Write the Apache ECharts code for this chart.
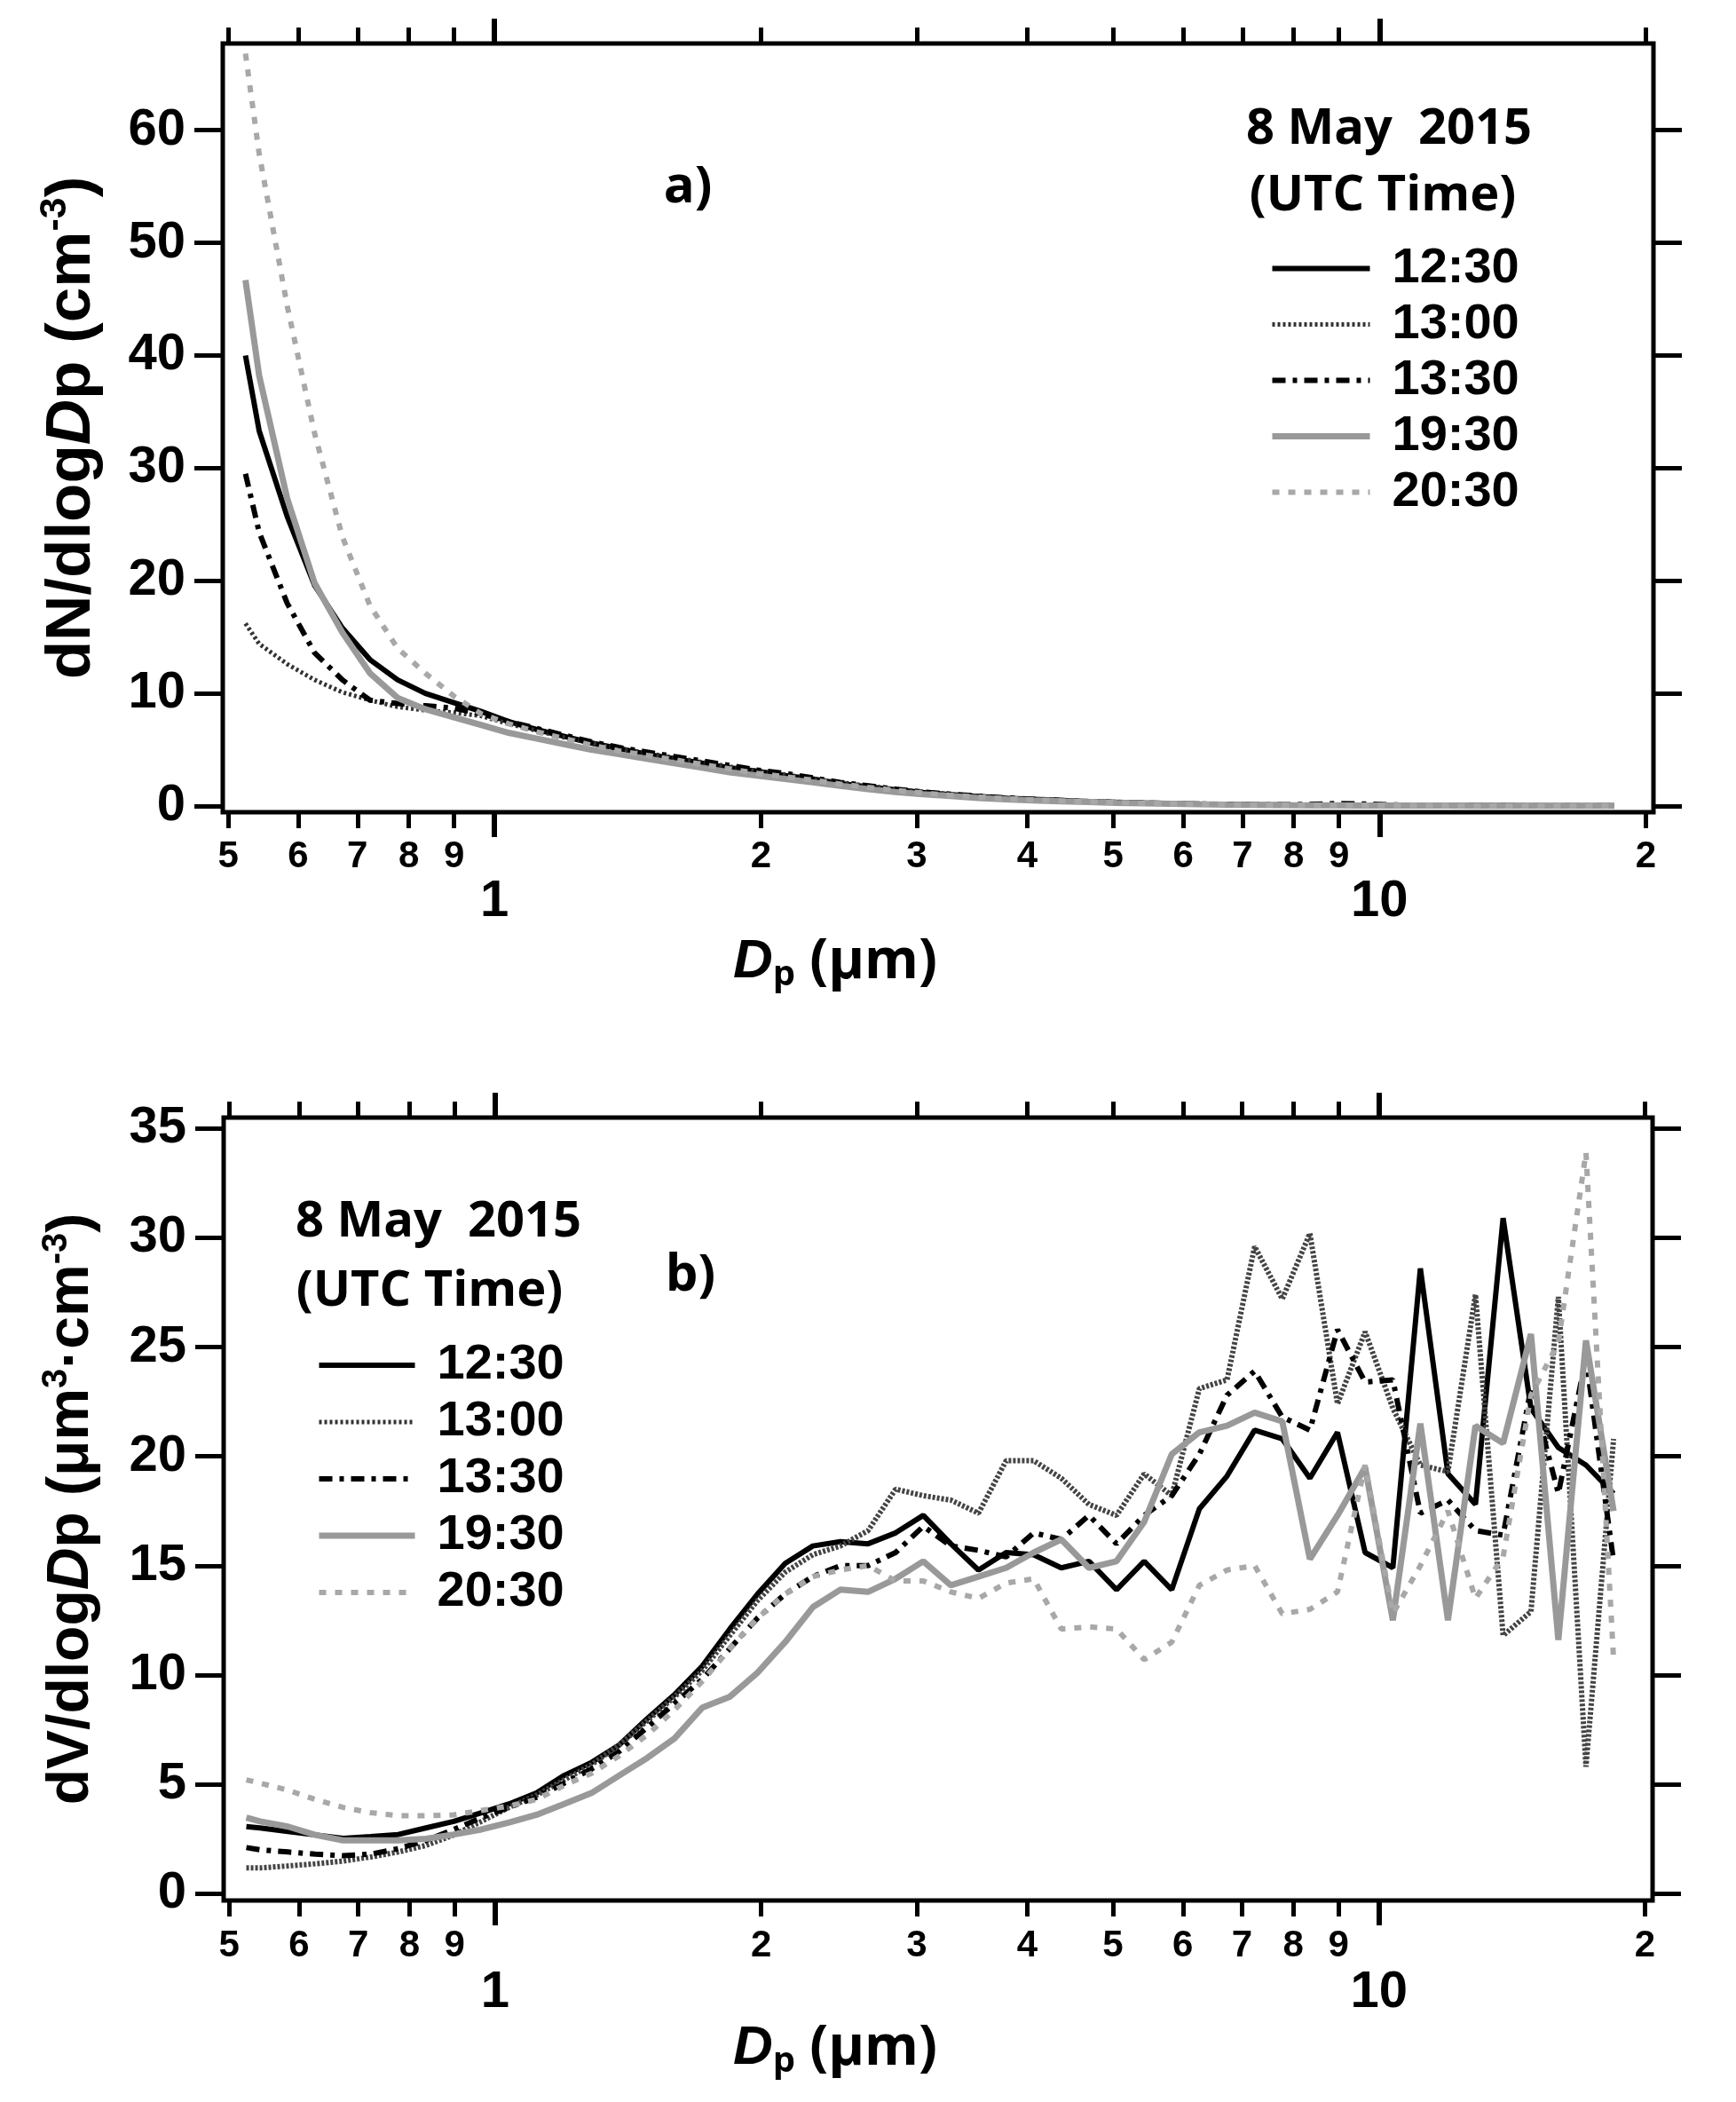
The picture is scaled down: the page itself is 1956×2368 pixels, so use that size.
<!DOCTYPE html>
<html><head><meta charset="utf-8">
<script src="https://cdn.jsdelivr.net/npm/echarts@6/dist/echarts.min.js"></script>
<style>html,body{margin:0;padding:0;background:#fff}#c{width:1956px;height:2368px}</style>
</head><body><div id="c"></div>
<script>
// ---------- data ----------
const diameters = [0.523, 0.542, 0.583, 0.626, 0.673, 0.723, 0.777, 0.835, 0.898, 0.965, 1.037, 1.114, 1.197, 1.286, 1.382, 1.486, 1.596, 1.715, 1.843, 1.981, 2.129, 2.288, 2.458, 2.642, 2.839, 3.051, 3.278, 3.523, 3.786, 4.068, 4.371, 4.698, 5.048, 5.425, 5.829, 6.264, 6.732, 7.234, 7.774, 8.354, 8.977, 9.647, 10.37, 11.14, 11.97, 12.86, 13.82, 14.86, 15.96, 17.15, 18.43];
const seriesNames = ['12:30', '13:00', '13:30', '19:30', '20:30'];

// panel a: dN/dlogDp
const n1230 = [40.0, 33.3, 25.7, 19.6, 15.8, 13.0, 11.2, 10.0, 9.2, 8.4, 7.5, 6.8, 6.2, 5.6, 5.1, 4.6, 4.2, 3.8, 3.4, 3.1, 2.7, 2.4, 2.0, 1.7, 1.45, 1.2, 1.0, 0.85, 0.7, 0.6, 0.5, 0.4, 0.33, 0.27, 0.22, 0.18, 0.15, 0.12, 0.1, 0.09, 0.08, 0.07, 0.06, 0.05, 0.045, 0.04, 0.035, 0.03, 0.025, 0.02, 0.02];
const n1300 = [16.2, 14.4, 12.6, 11.2, 10.1, 9.4, 8.8, 8.5, 8.3, 8.0, 7.3, 6.7, 6.1, 5.6, 5.1, 4.7, 4.3, 3.9, 3.5, 3.1, 2.8, 2.4, 2.1, 1.8, 1.5, 1.25, 1.05, 0.88, 0.72, 0.6, 0.5, 0.4, 0.33, 0.27, 0.22, 0.18, 0.15, 0.13, 0.11, 0.1, 0.12, 0.1, 0.08, 0.06, 0.05, 0.04, 0.035, 0.03, 0.025, 0.02, 0.02];
const n1330 = [29.5, 24.3, 18.0, 13.6, 11.2, 9.4, 9.1, 8.9, 8.7, 8.2, 7.5, 6.9, 6.3, 5.7, 5.2, 4.8, 4.4, 4.0, 3.6, 3.2, 2.9, 2.5, 2.1, 1.8, 1.5, 1.25, 1.05, 0.88, 0.72, 0.6, 0.5, 0.4, 0.33, 0.27, 0.22, 0.18, 0.15, 0.13, 0.12, 0.15, 0.22, 0.18, 0.1, 0.07, 0.05, 0.04, 0.035, 0.03, 0.025, 0.02, 0.02];
const n1930 = [46.7, 38.2, 27.3, 19.8, 15.4, 11.8, 9.6, 8.6, 7.9, 7.2, 6.5, 6.0, 5.5, 5.0, 4.6, 4.2, 3.8, 3.4, 3.0, 2.7, 2.4, 2.1, 1.8, 1.5, 1.25, 1.05, 0.88, 0.72, 0.6, 0.5, 0.42, 0.35, 0.28, 0.23, 0.19, 0.15, 0.12, 0.1, 0.08, 0.07, 0.06, 0.05, 0.045, 0.04, 0.035, 0.03, 0.025, 0.02, 0.02, 0.015, 0.015];
const n2030 = [66.8, 57.9, 44.4, 33.1, 23.9, 17.8, 14.0, 11.8, 9.8, 8.2, 7.3, 6.6, 6.0, 5.4, 4.9, 4.5, 4.1, 3.7, 3.3, 2.9, 2.6, 2.3, 1.95, 1.65, 1.4, 1.15, 0.95, 0.8, 0.65, 0.55, 0.45, 0.37, 0.3, 0.24, 0.2, 0.16, 0.13, 0.1, 0.08, 0.07, 0.06, 0.05, 0.04, 0.035, 0.03, 0.025, 0.02, 0.02, 0.015, 0.015, 0.01];

// panel b: dV/dlogDp
const v1230 = [3.06, 3.0, 2.84, 2.68, 2.52, 2.6, 2.7, 3.0, 3.3, 3.7, 4.1, 4.6, 5.4, 6.0, 6.8, 8.0, 9.1, 10.4, 12.1, 13.7, 15.1, 15.9, 16.1, 16.0, 16.5, 17.3, 16.0, 14.8, 15.6, 15.5, 14.9, 15.2, 13.9, 15.2, 13.9, 17.6, 19.1, 21.2, 20.8, 19.0, 21.1, 15.6, 14.9, 28.6, 19.2, 17.8, 30.9, 22.2, 20.4, 19.6, 18.3];
const v1300 = [1.17, 1.17, 1.26, 1.36, 1.48, 1.67, 1.9, 2.2, 2.68, 3.3, 3.94, 4.5, 5.2, 5.9, 6.8, 7.9, 9.0, 10.2, 11.8, 13.4, 14.7, 15.5, 15.9, 16.6, 18.5, 18.2, 18.0, 17.4, 19.8, 19.8, 19.0, 17.8, 17.3, 19.2, 18.2, 23.1, 23.5, 29.6, 27.2, 30.2, 22.4, 25.7, 22.2, 19.6, 19.3, 27.4, 11.8, 12.9, 27.3, 5.8, 20.8];
const v1330 = [2.1, 2.0, 1.9, 1.8, 1.73, 1.8, 2.05, 2.43, 2.93, 3.47, 3.94, 4.4, 5.05, 5.7, 6.5, 7.6, 8.7, 9.8, 11.2, 12.6, 13.7, 14.5, 15.0, 15.0, 15.6, 16.8, 15.9, 15.7, 15.4, 16.5, 16.2, 17.3, 16.0, 17.3, 18.2, 20.1, 22.8, 23.9, 21.8, 21.2, 25.8, 23.4, 23.5, 17.4, 18.0, 16.6, 16.4, 23.1, 18.3, 24.5, 15.2];
const v1930 = [3.47, 3.3, 3.06, 2.68, 2.43, 2.43, 2.43, 2.5, 2.7, 2.93, 3.25, 3.6, 4.1, 4.6, 5.4, 6.2, 7.1, 8.5, 9.0, 10.1, 11.5, 13.1, 13.9, 13.8, 14.4, 15.2, 14.1, 14.5, 14.9, 15.6, 16.2, 14.9, 15.2, 17.0, 20.1, 21.1, 21.4, 22.0, 21.6, 15.3, 17.3, 19.5, 12.5, 21.5, 12.5, 21.4, 20.6, 25.6, 11.6, 25.3, 17.5];
const v2030 = [5.2, 5.05, 4.73, 4.3, 3.94, 3.7, 3.56, 3.56, 3.6, 3.8, 4.0, 4.3, 4.95, 5.5, 6.3, 7.25, 8.4, 9.7, 11.2, 12.6, 13.7, 14.5, 14.8, 15.0, 14.3, 14.3, 13.8, 13.5, 14.2, 14.4, 12.1, 12.2, 12.1, 10.7, 11.5, 14.1, 14.8, 15.0, 12.8, 13.0, 13.8, 19.6, 12.8, 15.0, 17.5, 13.5, 15.4, 22.8, 25.2, 33.9, 10.7];

// ticks
const xMinorTicks = [0.5, 0.6, 0.7, 0.8, 0.9, 2, 3, 4, 5, 6, 7, 8, 9, 20];
const xMinorLabels = ['5', '6', '7', '8', '9', '2', '3', '4', '5', '6', '7', '8', '9', '2'];
const xMajorTicks = [1, 10];
const xMajorLabels = ['1', '10'];
const yTicksA = [0, 10, 20, 30, 40, 50, 60];
const yTicksB = [0, 5, 10, 15, 20, 25, 30, 35];
const xRange = [0.493, 20.4];
const yRangeA = [-0.55, 67.7];
const yRangeB = [-0.32, 35.5];

// ---------- styles ----------
const FONT = "'Liberation Sans', Arial, sans-serif";
const TFONT = "'Open Sans', sans-serif";
const lineStyles = [
  {color: '#000', width: 6, type: 'solid'},
  {color: '#333', width: 5, type: [3, 3]},
  {color: '#000', width: 6, type: [15, 8, 5, 8]},
  {color: '#999', width: 7, type: 'solid'},
  {color: '#a8a8a8', width: 6, type: [8, 10]}
];
const lineStylesB = lineStyles.slice();
lineStylesB[1] = {color: '#444', width: 6, type: [3, 2]};

const LX0 = Math.log10(xRange[0]), LX1 = Math.log10(xRange[1]);
const minorLog = xMinorTicks.map(Math.log10);
const majorLog = xMajorTicks.map(Math.log10);
function pick(vals, labels) {
  return function (v) {
    for (let i = 0; i < vals.length; i++) if (Math.abs(vals[i] - v) < 1e-6) return labels[i];
    return '';
  };
}
const boldText = {fontFamily: FONT, fontWeight: 'bold', color: '#000'};

function richSet(size) {
  return {
    b: {fontFamily: FONT, fontWeight: 'bold', fontSize: size, lineHeight: Math.round(size * 1.12), color: '#000'},
    i: {fontFamily: FONT, fontWeight: 'bold', fontStyle: 'italic', fontSize: size, lineHeight: Math.round(size * 1.12), color: '#000'},
    s: {fontFamily: FONT, fontWeight: 'bold', fontSize: Math.round(size * 0.6), lineHeight: Math.round(size * 0.6), verticalAlign: 'top', color: '#000'}
  };
}
const xNameRich = {
  i: {fontFamily: FONT, fontWeight: 'bold', fontStyle: 'italic', fontSize: 62, lineHeight: 70, color: '#000'},
  sub: {fontFamily: TFONT, fontWeight: 'bold', fontSize: 40, lineHeight: 40, verticalAlign: 'bottom', color: '#000'},
  b: {fontFamily: TFONT, fontWeight: 'bold', fontSize: 62, lineHeight: 70, color: '#000'}
};

function xAxesFor(gi, c) {
  const base = {type: 'value', gridIndex: gi, min: LX0, max: LX1,
    axisLine: {show: false, onZero: false}, splitLine: {show: false}};
  const tick = (vals, len, w) => ({show: true, customValues: vals, length: len, lineStyle: {width: w, color: '#000'}});
  return [
    {type: 'log', gridIndex: gi, min: xRange[0], max: xRange[1], show: false, axisLine: {onZero: false}, splitLine: {show: false}},
    Object.assign({}, base, {position: 'bottom', axisTick: tick(minorLog, 18, 5),
      axisLabel: Object.assign({customValues: minorLog, formatter: pick(minorLog, xMinorLabels), margin: c.minorMargin, fontSize: 42}, boldText)}),
    Object.assign({}, base, {position: 'bottom', axisTick: tick(majorLog, 28, 6),
      axisLabel: Object.assign({customValues: majorLog, formatter: pick(majorLog, xMajorLabels), margin: c.majorMargin, fontSize: 58}, boldText),
      name: '{i|D}{sub|p}{b| (μm)}', nameLocation: 'middle', nameGap: c.nameGap,
      nameTextStyle: {rich: xNameRich, padding: [0, 232, 0, 0]}}),
    Object.assign({}, base, {position: 'top', axisTick: tick(minorLog, 18, 5), axisLabel: {show: false}}),
    Object.assign({}, base, {position: 'top', axisTick: tick(majorLog, 28, 6), axisLabel: {show: false}})
  ];
}

function yAxesFor(gi, range, ticks, name, nameSize, nameGap) {
  const base = {type: 'value', gridIndex: gi, min: range[0], max: range[1],
    axisLine: {show: false, onZero: false}, splitLine: {show: false}};
  return [
    Object.assign({}, base, {position: 'left',
      axisTick: {show: true, customValues: ticks, length: 32, lineStyle: {width: 5, color: '#000'}},
      axisLabel: Object.assign({customValues: ticks, margin: 42, fontSize: 58}, boldText),
      name: name, nameLocation: 'middle', nameGap: nameGap, nameTextStyle: {rich: richSet(nameSize)}}),
    Object.assign({}, base, {position: 'right',
      axisTick: {show: true, customValues: ticks, length: 32, lineStyle: {width: 5, color: '#000'}},
      axisLabel: {show: false}})
  ];
}

const panelA = [n1230, n1300, n1330, n1930, n2030];
const panelB = [v1230, v1300, v1330, v1930, v2030];
const series = [];
[panelA, panelB].forEach((panel, gi) => {
  const styles = gi === 0 ? lineStyles : lineStylesB;
  panel.forEach((vals, k) => {
    series.push({
      type: 'line', name: seriesNames[k], xAxisIndex: gi * 5, yAxisIndex: gi * 2,
      data: diameters.map((d, i) => [d, vals[i]]),
      symbol: 'none', showSymbol: false, smooth: false, clip: true,
      itemStyle: {color: styles[k].color},
      lineStyle: styles[k], z: 3
    });
  });
});

function legendAt(left, top, iw, lh) {
  return {orient: 'vertical', left: left, top: top, itemWidth: iw, itemHeight: 20, itemGap: 0, padding: 0,
    selectedMode: false, itemStyle: {opacity: 0},
    data: seriesNames.map((n, k) => ({name: n, itemStyle: {opacity: 0},
      lineStyle: {color: lineStyles[k].color, width: lineStyles[k].width, type: lineStyles[k].type}})),
    textStyle: {fontFamily: FONT, fontWeight: 'bold', fontSize: 56, color: '#000', lineHeight: lh, padding: [0, 0, 0, 20]}};
}

function label(txt, x, y, size) {
  return {type: 'text', x: x, y: y, z: 10,
    style: {text: txt, font: 'bold ' + size + 'px ' + TFONT, fill: '#000',
      align: 'center', verticalAlign: 'middle', textAlign: 'center', textVerticalAlign: 'middle'}};
}

const option = {
  animation: false,
  backgroundColor: '#fff',
  grid: [
    {left: 251, right: 93, top: 49, height: 866, show: true, borderColor: '#000', borderWidth: 5, backgroundColor: 'transparent'},
    {left: 252, right: 94, top: 1259, height: 882, show: true, borderColor: '#000', borderWidth: 5, backgroundColor: 'transparent'}
  ],
  xAxis: xAxesFor(0, {minorMargin: 29, majorMargin: 72, nameGap: 134})
    .concat(xAxesFor(1, {minorMargin: 30, majorMargin: 75, nameGap: 132})),
  yAxis: yAxesFor(0, yRangeA, yTicksA, '{b|dN/dlog}{i|D}{b|p (cm}{s|-3}{b|)}', 71, 130)
    .concat(yAxesFor(1, yRangeB, yTicksB, '{b|dV/dlog}{i|D}{b|p (μm}{s|3}{b|·cm}{s|-3}{b|)}', 66, 134)),
  legend: [legendAt(1430, 271, 110, 63), legendAt(356, 1506, 108, 64)],
  graphic: [
    label('a)', 775, 211, 58),
    label('8 May  2015', 1565, 146, 56),
    label('(UTC Time)', 1558, 221, 56),
    label('b)', 778, 1437, 58),
    label('8 May  2015', 494, 1377, 56),
    label('(UTC Time)', 484, 1455, 56)
  ],
  series: series
};

const chart = echarts.init(document.getElementById('c'), null, {renderer: 'canvas'});
chart.setOption(option);
</script></body></html>
